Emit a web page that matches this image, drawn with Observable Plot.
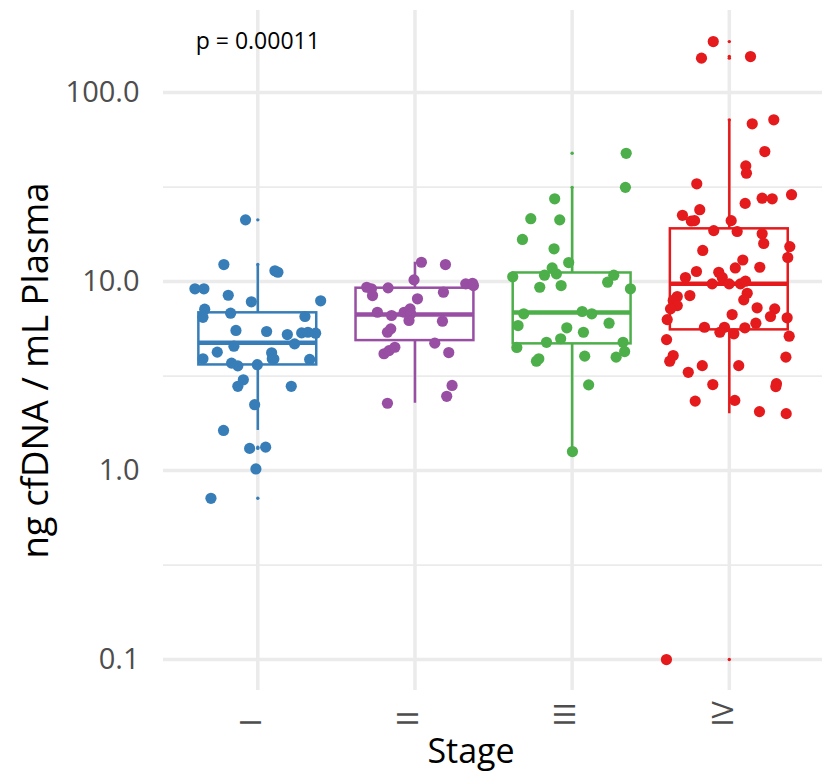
<!DOCTYPE html>
<html>
<head>
<meta charset="utf-8">
<script src="https://cdn.jsdelivr.net/npm/d3@7"></script>
<script src="https://cdn.jsdelivr.net/npm/@observablehq/plot@0.6"></script>
<style>
  html, body { margin: 0; padding: 0; background: #fff; }
  #chart svg { font-family: "Open Sans", sans-serif; }
</style>
</head>
<body>
<div id="chart"></div>
<script>
// ---- data ----
const stages = ["I", "II", "III", "IV"];
const stageColors = ["#377EB8", "#984EA3", "#4DAF4A", "#E41A1C"];

const valuesI = [21.2, 12.3, 11.4, 11.2, 9.15, 9.15, 8.46, 7.81, 7.91, 7.14, 6.47, 6.80, 6.53,
  5.51, 5.44, 5.24, 5.35, 5.39, 5.33, 4.68, 4.55, 4.23, 4.20, 3.90, 3.89, 3.90, 3.87, 3.70,
  3.58, 3.63, 3.02, 2.79, 2.79, 2.23, 1.63, 1.31, 1.33, 1.02, 0.713];
const jitterI = [-0.078, -0.216, 0.109, 0.128, -0.400, -0.343, -0.188, -0.041, 0.400, -0.338, -0.349, -0.173, 0.300,
  -0.139, 0.056, 0.188, 0.279, 0.319, 0.368, 0.234, -0.152, -0.258, 0.088, 0.092, 0.102, -0.349, 0.330, -0.167,
  -0.127, -0.003, -0.092, -0.127, 0.213, -0.020, -0.218, -0.052, 0.050, -0.012, -0.298];

const valuesII = [12.65, 12.3, 10.2, 9.33, 9.15, 8.43, 9.26, 9.72, 9.79, 9.52, 8.78, 8.10, 6.88,
  6.61, 6.88, 7.17, 6.75, 6.22, 6.17, 5.62, 5.39, 4.72, 4.15, 4.31, 4.49, 4.21, 2.82, 2.47, 2.27];
const jitterII = [0.041, 0.194, -0.006, -0.307, -0.277, -0.270, -0.171, 0.323, 0.366, 0.372, 0.181, 0.016, -0.239,
  -0.149, -0.069, -0.031, -0.027, -0.038, 0.175, -0.154, -0.175, 0.126, -0.197, -0.165, -0.128, 0.215, 0.236, 0.202, -0.175];

const valuesIII = [47.7, 31.5, 27.4, 21.5, 21.2, 16.7, 14.9, 12.6, 11.8, 10.98, 10.8, 10.6, 10.8,
  9.92, 9.15, 9.33, 9.52, 6.75, 5.85, 6.94, 6.75, 6.02, 5.69, 5.39, 4.77, 4.98, 4.48, 4.77,
  4.26, 3.98, 3.90, 3.79, 4.03, 2.84, 1.26];
const jitterIII = [0.344, 0.339, -0.111, -0.263, -0.079, -0.316, -0.115, -0.022, -0.127, -0.100, -0.176, -0.378, 0.265,
  0.226, 0.371, -0.206, -0.070, -0.308, -0.344, 0.064, 0.125, 0.235, -0.034, 0.072, -0.163, -0.073, -0.352, 0.324,
  0.334, 0.280, -0.212, -0.227, 0.080, 0.105, 0.002];

const valuesIV = [186, 152, 155, 0.1, 68.3, 71.7, 48.7, 40.9, 37.4, 32.9, 28.8, 27.6, 27.4, 25.9,
  24.0, 22.4, 20.9, 21.0, 21.0, 18.6, 18.4, 17.9, 15.9, 14.6, 15.3, 13.4, 13.0, 11.8, 11.9,
  11.3, 11.2, 10.5, 10.5, 9.72, 9.72, 9.72, 10.04, 8.67, 8.00, 8.43, 8.33, 7.94, 7.46, 7.17,
  7.26, 6.69, 6.29, 7.17, 6.53, 6.43, 6.02, 5.73, 5.73, 5.39, 5.29, 5.69, 5.14, 4.93, 3.98,
  4.06, 3.79, 3.59, 3.59, 3.31, 2.85, 2.88, 2.78, 2.33, 2.35, 2.05, 2.00];
const jitterIV = [-0.102, -0.177, 0.135, -0.400, 0.146, 0.283, 0.226, 0.105, 0.109, -0.207, 0.396, 0.209, 0.273, 0.101,
  -0.188, -0.298, -0.242, -0.221, 0.012, -0.099, 0.050, 0.209, 0.219, -0.169, 0.385, 0.372, 0.086, 0.038, 0.194,
  -0.209, -0.067, -0.045, -0.279, -0.109, -0.001, 0.071, 0.103, 0.114, 0.092, -0.251, -0.331, -0.357, -0.331, -0.374,
  0.177, 0.018, -0.395, 0.289, 0.262, 0.368, 0.169, -0.158, -0.031, -0.060, 0.029, 0.099, 0.381, -0.399, 0.360,
  -0.357, -0.379, -0.172, 0.060, -0.261, -0.105, 0.300, 0.296, -0.217, 0.035, 0.192, 0.362];

// box statistics (log-scale boxplot)
const boxQ1 = [3.62, 4.87, 4.68, 5.55];
const boxMedian = [4.74, 6.69, 6.86, 9.72];
const boxQ3 = [6.83, 9.22, 11.1, 19.0];
const whiskerLo = [1.63, 2.27, 1.26, 2.00];
const whiskerHi = [12.2, 12.65, 31.3, 71.1];

const majorTicks = [0.1, 1, 10, 100];
const minorTicks = [0.3162, 3.162, 31.62];
const pLabel = "p = 0.00011";
const xTitle = "Stage";
const yTitle = "ng cfDNA / mL Plasma";

// ---- build tables ----
const groupValues = [valuesI, valuesII, valuesIII, valuesIV];
const groupJitter = [jitterI, jitterII, jitterIII, jitterIV];
const points = [];
groupValues.forEach((vals, g) => vals.forEach((v, i) => points.push({
  stage: stages[g], pos: g + 1, value: v, jitter: groupJitter[g][i]
})));
const boxes = stages.map((s, g) => ({
  stage: s, pos: g + 1, q1: boxQ1[g], median: boxMedian[g], q3: boxQ3[g],
  lo: whiskerLo[g], hi: whiskerHi[g]
}));
const outliers = points.filter(p => {
  const b = boxes[p.pos - 1];
  return p.value < b.lo || p.value > b.hi;
});
const halfBox = 0.375;
const grid = "#ebebeb";

const chart = Plot.plot({
  width: 822,
  height: 776,
  marginLeft: 163,
  marginRight: 0,
  marginTop: 10,
  marginBottom: 86,
  style: { background: "#fff", fontFamily: "Open Sans, sans-serif" },
  x: { type: "linear", domain: [0.4, 4.593], axis: null },
  y: { type: "log", domain: [0.0686, 271.6], axis: null },
  color: { domain: stages, range: stageColors },
  marks: [
    Plot.gridY(minorTicks, { stroke: grid, strokeOpacity: 1, strokeWidth: 1.8 }),
    Plot.gridY(majorTicks, { stroke: grid, strokeOpacity: 1, strokeWidth: 3.5 }),
    Plot.gridX([1, 2, 3, 4], { stroke: grid, strokeOpacity: 1, strokeWidth: 3.5 }),
    Plot.axisY(majorTicks, {
      tickSize: 0, tickPadding: 24, fontSize: 29, fill: "#4d4d4d",
      tickFormat: d3.format(".1f"), label: null
    }),
    Plot.text(stages, {
      x: (d, i) => i + 1, text: d => d, frameAnchor: "bottom", rotate: -90,
      textAnchor: "start", lineAnchor: "middle", dy: 36, dx: -6, fontSize: 29, fill: "#4d4d4d"
    }),
    Plot.text([yTitle], {
      text: d => d, frameAnchor: "left", rotate: -90, textAnchor: "middle", lineAnchor: "middle",
      dx: -127, dy: 20, fontSize: 36.5, fill: "#000"
    }),
    Plot.text([xTitle], {
      text: d => d, frameAnchor: "bottom", textAnchor: "middle", lineAnchor: "middle",
      dx: -22, dy: 62, fontSize: 34, fill: "#000"
    }),
    Plot.ruleX(boxes, { x: "pos", y1: "lo", y2: "hi", stroke: "stage", strokeWidth: 2.5 }),
    Plot.rect(boxes, {
      x1: d => d.pos - halfBox, x2: d => d.pos + halfBox, y1: "q1", y2: "q3",
      fill: "white", stroke: "stage", strokeWidth: 2.5
    }),
    Plot.ruleY(boxes, {
      y: "median", x1: d => d.pos - halfBox, x2: d => d.pos + halfBox,
      stroke: "stage", strokeWidth: 4.5
    }),
    Plot.dot(outliers, { x: "pos", y: "value", r: 1.7, fill: "stage", stroke: null }),
    Plot.dot(points, { x: d => d.pos + d.jitter, y: "value", r: 5.6, fill: "stage", stroke: null }),
    Plot.text([{ pos: 1, value: d3.max(points, d => d.value), label: pLabel }], {
      x: "pos", y: "value", text: "label", fontSize: 23, fill: "#000"
    })
  ]
});
document.getElementById("chart").appendChild(chart);
</script>
</body>
</html>
